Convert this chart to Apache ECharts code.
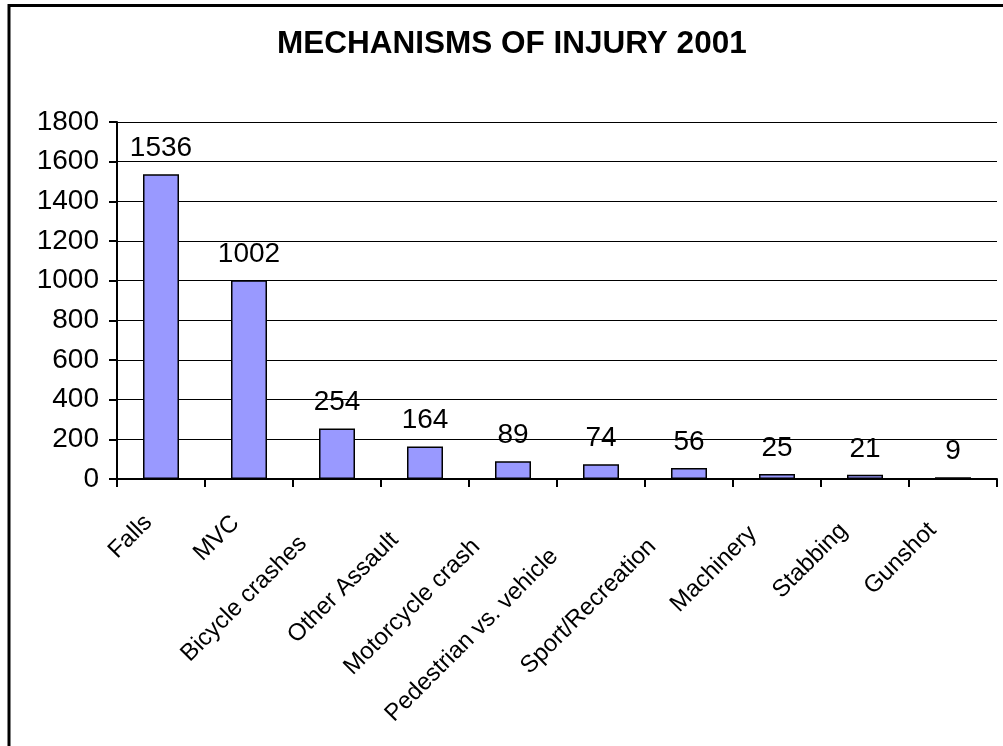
<!DOCTYPE html>
<html>
<head>
<meta charset="utf-8">
<script src="https://cdn.jsdelivr.net/npm/echarts@6/dist/echarts.min.js"></script>
<style>
  html, body { margin: 0; padding: 0; background: #fff; }
  #InjuryChart { width: 1003px; height: 746px; }
</style>
</head>
<body>
<div id="InjuryChart"></div>
<script>
// mechanisms of injury, 2001
const categories = ['Falls', 'MVC', 'Bicycle crashes', 'Other Assault', 'Motorcycle crash',
  'Pedestrian vs. vehicle', 'Sport/Recreation', 'Machinery', 'Stabbing', 'Gunshot'];
const injuryCounts = [1536, 1002, 254, 164, 89, 74, 56, 25, 21, 9];
const yTicks = [0, 200, 400, 600, 800, 1000, 1200, 1400, 1600, 1800];

const font = '"Liberation Sans", Arial, sans-serif';
const catFontSize = 24;

// the old spreadsheet pushes longer slanted labels further down-left,
// so pad each label's right end by a share of its own width
const ctx = document.createElement('canvas').getContext('2d');
ctx.font = catFontSize + 'px ' + font;
const catRich = {};
categories.forEach((c, i) => {
  const w = ctx.measureText(c).width;
  catRich['c' + i] = {
    fontFamily: font,
    fontSize: catFontSize,
    color: '#000',
    padding: [0, Math.round(5 + 0.26 * w), 0, 0]
  };
});

let myChart = echarts.init(document.getElementById('InjuryChart'));

const option = {
  backgroundColor: '#fff',
  animation: false,
  title: {
    text: 'MECHANISMS OF INJURY 2001',
    left: 277,
    top: 28,
    padding: 0,
    textStyle: {
      fontFamily: font,
      fontSize: 31.5,
      fontWeight: 'bold',
      color: '#000'
    }
  },
  grid: {
    left: 117,
    right: 6,
    top: 122,
    bottom: 267
  },
  xAxis: {
    type: 'category',
    data: categories,
    boundaryGap: true,
    axisLine: { lineStyle: { color: '#000', width: 2 } },
    axisTick: { show: true, length: 8, lineStyle: { color: '#000', width: 2 } },
    axisLabel: {
      rotate: 45,
      margin: 27,
      interval: 0,
      formatter: (value, index) => '{c' + index + '|' + value + '}',
      rich: catRich,
      fontFamily: font,
      fontSize: catFontSize,
      color: '#000'
    },
    splitLine: { show: false }
  },
  yAxis: {
    type: 'value',
    min: yTicks[0],
    max: yTicks[yTicks.length - 1],
    interval: yTicks[1] - yTicks[0],
    axisLine: { show: true, lineStyle: { color: '#000', width: 2 } },
    axisTick: { show: true, length: 8, lineStyle: { color: '#000', width: 2 } },
    axisLabel: {
      margin: 18,
      formatter: v => String(v),
      fontFamily: font,
      fontSize: 28,
      color: '#000'
    },
    //网格线
    splitLine: {
      show: true,
      lineStyle: { color: '#000', width: 1, type: 'solid' }
    }
  },
  series: [
    {
      type: 'bar',
      data: injuryCounts,
      barWidth: 36,
      itemStyle: {
        color: '#9999ff',
        borderColor: '#000',
        borderWidth: 1.5
      },
      label: {
        show: true,
        position: 'top',
        distance: 12,
        fontFamily: font,
        fontSize: 28,
        color: '#000'
      }
    }
  ],
  graphic: [
    {
      type: 'rect',
      shape: { x: 9, y: 5.5, width: 1100, height: 900 },
      style: { fill: 'none', stroke: '#000', lineWidth: 3 },
      silent: true
    }
  ]
};

myChart.setOption(option);
</script>
</body>
</html>
